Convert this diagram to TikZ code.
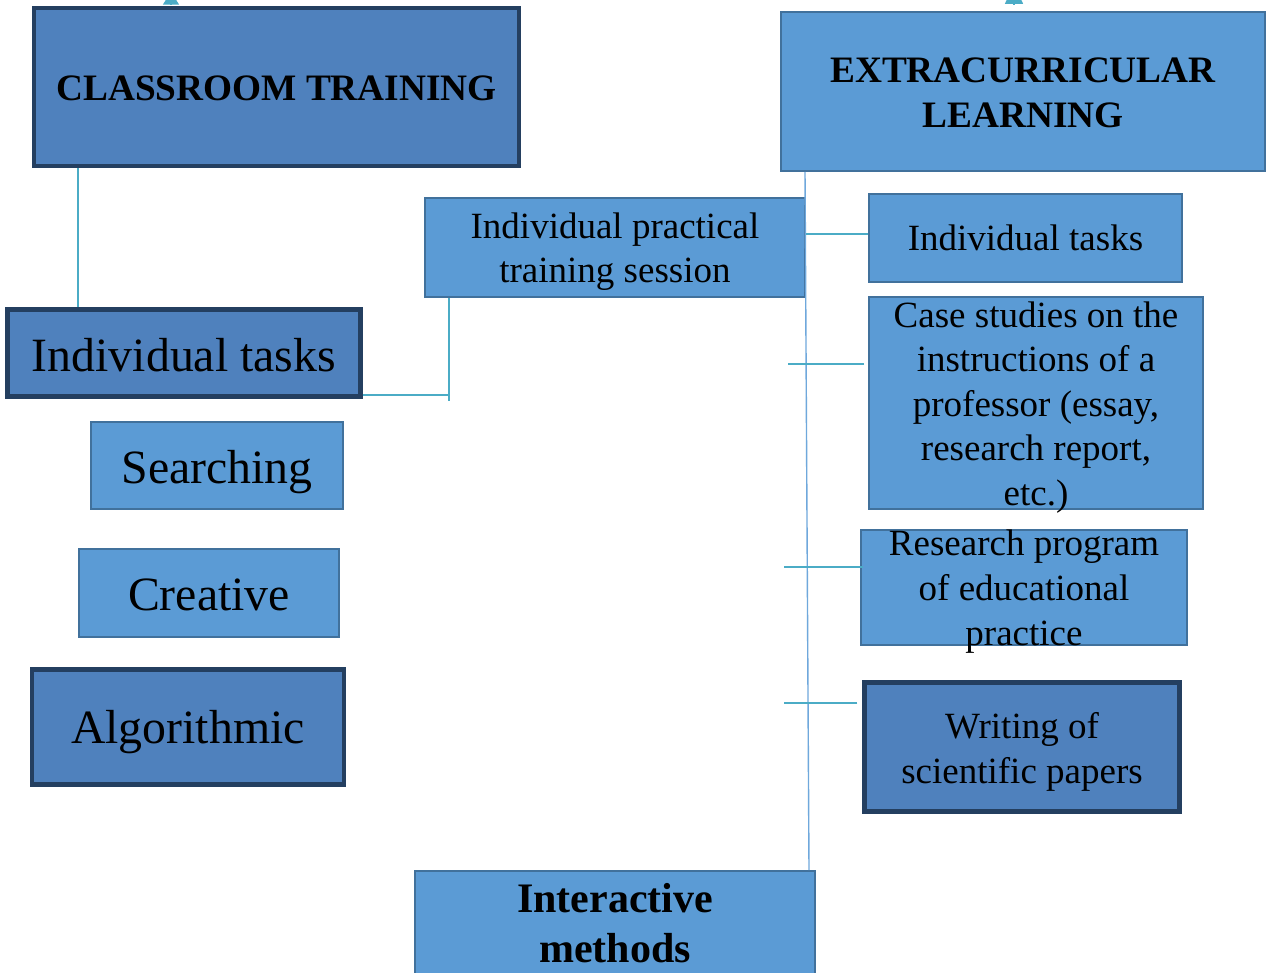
\documentclass[tikz,border=0pt]{standalone}
\usepackage{fontspec}
\setmainfont{Liberation Serif}
\usetikzlibrary{calc,arrows.meta}

\definecolor{darkfill}{HTML}{4F81BD}
\definecolor{darkedge}{HTML}{243F60}
\definecolor{lightfill}{HTML}{5B9BD5}
\definecolor{lightedge}{HTML}{41719C}
\definecolor{linkteal}{HTML}{4BACC6}
\definecolor{spineblue}{HTML}{6FA8DC}

% multi-line label whose base is the baseline of its first line
\newcommand\mlstack[1]{\begin{tabular}[t]{@{}c@{}}#1\end{tabular}}

\begin{document}
\begin{tikzpicture}[x=1pt,y=-1pt,
  heavybox/.style={draw=darkedge, fill=darkfill, line width=4.5pt, inner sep=0pt},
  lightbox/.style={draw=lightedge, fill=lightfill, line width=2pt, inner sep=0pt},
  boxtext/.style={anchor=base, inner sep=0pt, text=black},
  titlefont/.style={font=\fontsize{37.3}{45}\selectfont\bfseries},
  bigfont/.style={font=\fontsize{47.8}{56}\selectfont},
  midfont/.style={font=\fontsize{37}{44.5}\selectfont},
  boldfont/.style={font=\fontsize{42}{50}\selectfont\bfseries},
  tline/.style={draw=linkteal, line width=1.6pt},
  spine/.style={draw=spineblue, line width=1.4pt}
]
\clip (0,0) rectangle (1268,973);
\fill[white] (0,0) rectangle (1268,973);

% ---- boxes ----
\node[heavybox, minimum width=485pt, minimum height=158pt] (ct)   at (276.5,87)  {};
\node[lightbox, minimum width=484pt, minimum height=159pt] (ex)   at (1023,91.5) {};
\node[heavybox, minimum width=353pt, minimum height=87pt]  (lit)  at (184,353)   {};
\node[lightbox, minimum width=252pt, minimum height=87pt]  (srch) at (217,465)   {};
\node[lightbox, minimum width=260pt, minimum height=88pt]  (crt)  at (209,593)   {};
\node[heavybox, minimum width=312pt, minimum height=115pt] (alg)  at (188,727)   {};
\node[lightbox, minimum width=380pt, minimum height=99pt]  (prac) at (615,247.5) {};
\node[lightbox, minimum width=313pt, minimum height=88pt]  (rit)  at (1025.5,238) {};
\node[lightbox, minimum width=334pt, minimum height=212pt] (cs)   at (1036,403)  {};
\node[lightbox, minimum width=326pt, minimum height=115pt] (rp)   at (1024,587.5) {};
\node[heavybox, minimum width=315pt, minimum height=129pt] (wsp)  at (1022,747)  {};
\node[lightbox, minimum width=400pt, minimum height=130pt] (im)   at (615,936)   {};

% ---- labels ----
\node[boxtext, titlefont] (ct-t)   at (276.5,101) {CLASSROOM TRAINING};
\node[boxtext, titlefont] (ex-t)   at (1023,83)   {\mlstack{EXTRACURRICULAR\\LEARNING}};
\node[boxtext, bigfont]   (lit-t)  at (184,371)   {Individual tasks};
\node[boxtext, bigfont]   (srch-t) at (217,483)   {Searching};
\node[boxtext, bigfont]   (crt-t)  at (209,610)   {Creative};
\node[boxtext, bigfont]   (alg-t)  at (188,743)   {Algorithmic};
\node[boxtext, midfont, font=\fontsize{37}{44}\selectfont] (prac-t) at (615,239)
  {\mlstack{Individual practical\\training session}};
\node[boxtext, midfont]   (rit-t)  at (1025.5,251) {Individual tasks};
\node[boxtext, midfont]   (cs-t)   at (1036,327)
  {\mlstack{Case studies on the\\instructions of a\\professor (essay,\\research report,\\etc.)}};
\node[boxtext, midfont, font=\fontsize{37}{45}\selectfont] (rp-t) at (1024,555)
  {\mlstack{Research program\\of educational\\practice}};
\node[boxtext, midfont, font=\fontsize{37}{45}\selectfont] (wsp-t) at (1022,738)
  {\mlstack{Writing of\\scientific papers}};
\node[boxtext, boldfont]  (im-t)   at (615,912)   {\mlstack{Interactive\\methods}};

% ---- connectors, left branch ----
\draw[tline] ([xshift=-198.5pt]ct.south) -- ([xshift=-106pt]lit.north);
\draw[tline] ([xshift=-166pt]prac.south) -- ++(0,103);
\draw[tline] ([yshift=4pt]lit.south east) -- ++(85,0);

% ---- connectors, right branch ----
\draw[spine] ([xshift=25pt]ex.south west) -- ([xshift=-7pt]im.north east);
\draw[tline] ([yshift=4pt]rit.west) -- ++(-62,0);
\draw[tline] ([xshift=-4pt,yshift=39pt]cs.west) -- ++(-76,0);
\draw[tline] ([xshift=3pt,yshift=20.5pt]rp.west) -- ++(-79,0);
\draw[tline] ([xshift=-5pt,yshift=44pt]wsp.west) -- ++(-73,0);

% ---- arrow tips leaving the two headings ----
\draw[tline, -{Triangle[width=16pt,length=13pt]}, shorten <=1pt]
  ([xshift=-105.5pt]ct.north) -- ++(0,-14);
\draw[tline, -{Triangle[width=18pt,length=20pt]}, shorten <=7pt]
  ([xshift=-9pt]ex.north) -- ++(0,-27);
\end{tikzpicture}
\end{document}
